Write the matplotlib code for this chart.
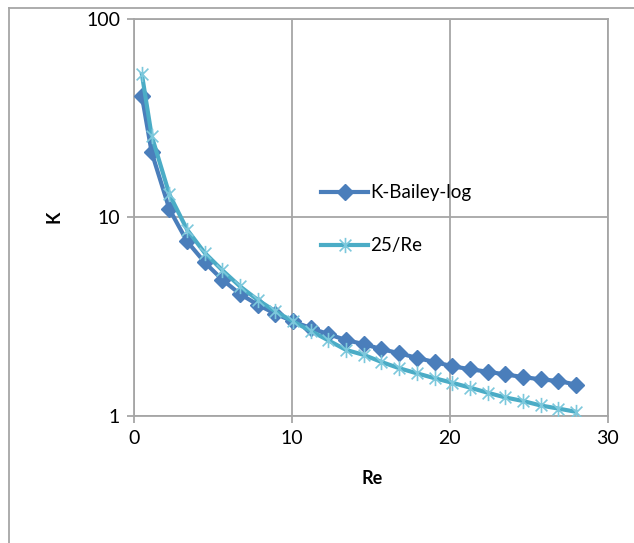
import matplotlib.pyplot as plt
from matplotlib.lines import Line2D
from matplotlib.path import Path
from matplotlib.ticker import NullLocator, FixedLocator, FixedFormatter

# Re values (x)
re_vals = [0.5, 1.12, 2.24, 3.36, 4.48, 5.6, 6.72, 7.84, 8.96, 10.08,
           11.2, 12.32, 13.44, 14.56, 15.68, 16.8, 17.92, 19.04, 20.16,
           21.28, 22.4, 23.52, 24.64, 25.76, 26.88, 28.0]

# K-Bailey-log series
k_bailey = [40.8, 21.2, 11.0, 7.57, 5.93, 4.85, 4.11, 3.63, 3.27, 2.99,
            2.77, 2.58, 2.41, 2.30, 2.17, 2.07, 1.96, 1.87, 1.78, 1.72,
            1.67, 1.62, 1.57, 1.53, 1.50, 1.44]

# 25/Re series
k_25_re = [52.5, 25.7, 13.05, 8.68, 6.62, 5.41, 4.49, 3.84, 3.36, 2.99,
           2.68, 2.40, 2.15, 2.03, 1.87, 1.74, 1.64, 1.55, 1.47, 1.39,
           1.31, 1.24, 1.19, 1.13, 1.09, 1.05]

x_ticks = [0, 10, 20, 30]
y_ticks = [1, 10, 100]
y_tick_labels = ["1", "10", "100"]

plt.rcParams["font.family"] = ["Lato", "DejaVu Sans"]

BLUE = "#4a7ebb"
TEAL = "#4bacc6"
GRID = "#a6a6a6"

# Excel style asterisk: an x with a vertical bar
star = Path([(-1, -1), (1, 1), (-1, 1), (1, -1), (0, -1.3), (0, 1.3)],
            [Path.MOVETO, Path.LINETO, Path.MOVETO, Path.LINETO,
             Path.MOVETO, Path.LINETO])

fig = plt.figure(figsize=(6.34, 5.43), dpi=100)
ax = fig.add_axes([134 / 634, 127 / 543, 473.5 / 634, 397.4 / 543])

ax.plot(re_vals, k_bailey, color=BLUE, lw=3, marker="D", ms=8.5,
        mfc=BLUE, mec=BLUE, label="K-Bailey-log", zorder=3)
ax.plot(re_vals, k_25_re, color=TEAL, lw=3, marker=star, ms=11,
        mfc="none", mec="#7cc8dc", mew=1.2, label="25/Re", zorder=4)

ax.set_yscale("log")
ax.set_xlim(0, 30)
ax.set_ylim(1, 100)
ax.xaxis.set_major_locator(FixedLocator(x_ticks))
ax.yaxis.set_major_locator(FixedLocator(y_ticks))
ax.yaxis.set_major_formatter(FixedFormatter(y_tick_labels))
ax.yaxis.set_minor_locator(NullLocator())

ax.grid(True, color=GRID, lw=1.3)
ax.set_axisbelow(True)
for s in ax.spines.values():
    s.set_color(GRID)
    s.set_linewidth(1.3)
ax.tick_params(colors=GRID, labelcolor="black", labelsize=14,
               length=5, width=1.3, pad=5)

ax.set_xlabel("Re", fontsize=13, fontweight="bold")
ax.set_ylabel("K", fontsize=13, fontweight="bold")
ax.xaxis.set_label_coords(0.503, -0.135)
ax.yaxis.set_label_coords(-0.150, 0.50)

ax.legend(loc="center left", bbox_to_anchor=(0.36, 0.495), frameon=False,
          fontsize=13.5, labelspacing=1.9, handlelength=2.5, handletextpad=0.1)

# chart area border (top and left edges visible)
fig.add_artist(Line2D([8.5 / 634, 1], [1 - 7.5 / 543] * 2,
                      color=GRID, lw=1.3, transform=fig.transFigure))
fig.add_artist(Line2D([8.5 / 634] * 2, [0, 1 - 7.5 / 543],
                      color=GRID, lw=1.3, transform=fig.transFigure))

fig.savefig("out.png", dpi=100)
